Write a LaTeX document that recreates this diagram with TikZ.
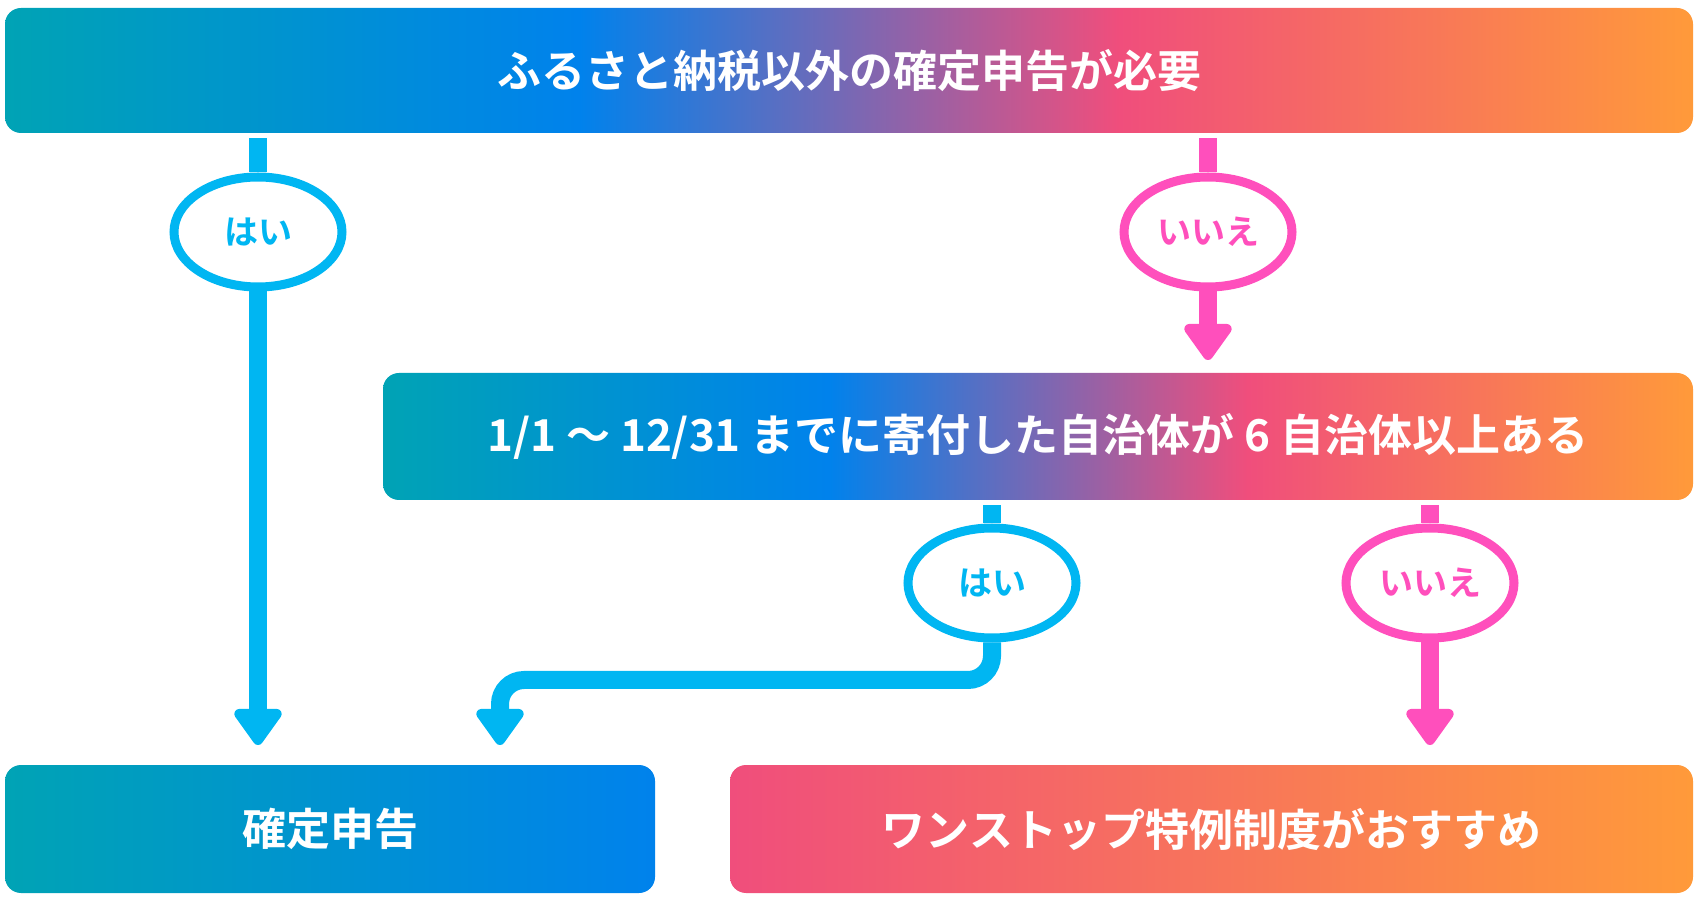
\documentclass[tikz,border=0pt]{standalone}
\usepackage{fontspec}
\setmainfont{Noto Sans CJK JP}[BoldFont={* Bold}]
\usetikzlibrary{arrows.meta,shapes.geometric,positioning}
\definecolor{cteal}{HTML}{00A3B5}
\definecolor{cblue}{HTML}{0082EC}
\definecolor{cpink}{HTML}{F04E7C}
\definecolor{corange}{HTML}{FF9A3A}
\definecolor{yescol}{HTML}{00B6F2}
\definecolor{nocol}{HTML}{FF4FBC}
\pgfdeclarehorizontalshading{flow}{100bp}{color(0bp)=(cteal); color(25bp)=(cteal); color(42bp)=(cblue); color(58bp)=(cpink); color(75bp)=(corange); color(100bp)=(corange)}
\tikzset{
  box/.style={rectangle, rounded corners=8pt, text=white, font=\bfseries\fontsize{22}{26}\selectfont, inner sep=0pt},
  ans/.style={ellipse, draw=#1, line width=4.5pt, fill=white, text=#1, minimum width=84pt, minimum height=55pt, inner sep=0pt, font=\bfseries\fontsize{17}{20}\selectfont},
  link/.style={draw=#1, line width=9pt},
  arr/.style={link=#1, -{Triangle[width=27pt,length=20pt,round]}},
}
\begin{document}
\begin{tikzpicture}[x=0.5pt,y=-0.5pt]
    \useasboundingbox (0,0) rectangle (1699,898);
    
    % Boxes
    \node [box, shading=flow, minimum width=844pt, minimum height=62.5pt] (need) at (849,70.5) {ふるさと納税以外の確定申告が必要};
    \node [box, shading=flow, minimum width=655pt, minimum height=63.5pt] (six) at (1038,436.5) {1/1 〜 12/31 までに寄付した自治体が 6 自治体以上ある};
    \node [box, left color=cteal, right color=cblue, minimum width=325pt, minimum height=64pt] (tax) at (330,829) {確定申告};
    \node [box, left color=cpink, right color=corange, minimum width=481.5pt, minimum height=64pt] (stop) at (1211.5,829) {ワンストップ特例制度がおすすめ};
    
    % Answers
    \node [ans=yescol] (yesA) at (258,232) {はい};
    \node [ans=nocol] (noA) at (1208,232) {いいえ};
    \node [ans=yescol] (yesB) at (992,583) {はい};
    \node [ans=nocol] (noB) at (1430,583) {いいえ};
    
    % Connectors
    \draw [link=yescol] (need.south -| yesA) ++(0,5) -- (yesA.north);
    \draw [arr=yescol] (yesA.south) -- (258,745);
    \draw [link=nocol] (need.south -| noA) ++(0,5) -- (noA.north);
    \draw [arr=nocol] (noA.south) -- (1208,360);
    \draw [link=yescol] (six.south -| yesB) ++(0,5) -- (yesB.north);
    \draw [arr=yescol, rounded corners=12pt] (yesB.south) -- (992,680) -- (500,680) -- (500,745);
    \draw [link=nocol] (six.south -| noB) ++(0,5) -- (noB.north);
    \draw [arr=nocol] (noB.south) -- (1430,745);
    
\end{tikzpicture}
\end{document}
